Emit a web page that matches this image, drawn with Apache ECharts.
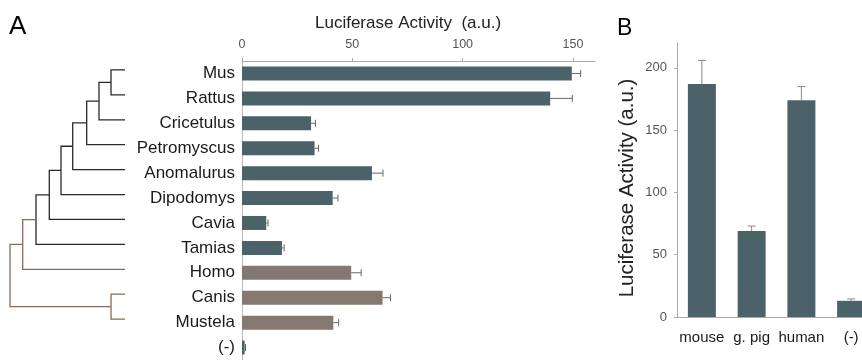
<!DOCTYPE html>
<html>
<head>
<meta charset="utf-8">
<script src="https://cdn.jsdelivr.net/npm/echarts@6/dist/echarts.min.js"></script>
<style>
html,body{margin:0;padding:0;background:#fff;}
#chart{width:862px;height:360px;}
</style>
</head>
<body>
<div id="chart"></div>
<script>
// ---------- Panel A data ----------
const categoriesA = ['Mus','Rattus','Cricetulus','Petromyscus','Anomalurus','Dipodomys','Cavia','Tamias','Homo','Canis','Mustela','(-)'];
const valuesA = [149.5, 139.7, 31.3, 32.9, 58.9, 41.1, 11.0, 18.1, 49.5, 63.7, 41.4, 1.2];
const errorsA = [4, 10, 2, 1.8, 5, 2.4, 0.8, 1, 4.5, 3.6, 2.4, 0.4];
const groupsA = ['rodent','rodent','rodent','rodent','rodent','rodent','rodent','rodent','other','other','other','control'];
const tickLabelsA = [0, 50, 100, 150];

// ---------- Dendrogram (branch depths, root = 0, leaves = 115) ----------
const leafDepth = 115;
const nodeIds     = ['n1','n2','n3','n4','n5','n6','n7','n8','n9','root'];
const nodeDepths  = [101, 89, 76.7, 62.7, 51, 39.3, 26, 12.7, 101, 0];
const nodeChildA  = ['Mus','n1','n2','n3','n4','n5','n6','n7','Canis','n8'];
const nodeChildB  = ['Rattus','Cricetulus','Petromyscus','Anomalurus','Dipodomys','Cavia','Tamias','Homo','Mustela','n9'];
const nodeClade   = ['rodent','rodent','rodent','rodent','rodent','rodent','rodent','other','other','other'];

// ---------- Panel B data ----------
const categoriesB = ['mouse','g. pig','human','(-)'];
const valuesB = [187, 69, 174, 13];
const errorsB = [19, 4, 11, 1.5];
const tickLabelsB = [0, 50, 100, 150, 200];

// ---------- styles ----------
const colorMap = { rodent: '#4b6269', other: '#857870', control: '#4b6269' };
const treeColorMap = { rodent: '#2a2a2a', other: '#8a6a5a' };
const FONT = '"Liberation Sans", Arial, sans-serif';

// compute dendrogram node positions (y in leaf-index units)
const posY = {}, posX = {};
categoriesA.forEach((c, i) => { posY[c] = i; posX[c] = leafDepth; });
nodeIds.forEach((id, k) => {
  posX[id] = nodeDepths[k];
  posY[id] = (posY[nodeChildA[k]] + posY[nodeChildB[k]]) / 2;
});
const treeData = nodeIds.map((id, k) => [
  posX[id], posY[nodeChildA[k]], posY[nodeChildB[k]],
  posX[nodeChildA[k]], posX[nodeChildB[k]], k
]);

const chart = echarts.init(document.getElementById('chart'));

const option = {
  animation: false,
  backgroundColor: '#fff',
  textStyle: { fontFamily: FONT },
  title: [
    { text: 'A', left: 9, top: 14, padding: 0, textStyle: { fontSize: 26, fontWeight: 'normal', color: '#000', fontFamily: FONT } },
    { text: 'B', left: 617, top: 17, padding: 0, textStyle: { fontSize: 23, fontWeight: 'normal', color: '#000', fontFamily: FONT } },
    { text: 'Luciferase Activity  (a.u.)', left: 315, top: 15, padding: 0, textStyle: { fontSize: 17, fontWeight: 'normal', color: '#222', fontFamily: FONT } }
  ],
  grid: [
    { left: 10, top: 57.5, width: 115, height: 299, outerBoundsMode: 'none', containLabel: false },   // dendrogram
    { left: 242, top: 61, width: 353, height: 299, outerBoundsMode: 'none', containLabel: false },    // panel A bars
    { left: 677, top: 43, width: 199, height: 274, outerBoundsMode: 'none', containLabel: false }     // panel B bars
  ],
  xAxis: [
    { gridIndex: 0, type: 'value', min: 0, max: leafDepth, show: false },
    {
      gridIndex: 1, type: 'value', position: 'top', min: 0, max: 160,
      axisLine: { show: true, lineStyle: { color: '#aaa', width: 1 } },
      axisTick: { show: true, length: 3, customValues: tickLabelsA, lineStyle: { color: '#aaa' } },
      axisLabel: { customValues: tickLabelsA, fontSize: 12.5, color: '#555', margin: 10, fontFamily: FONT },
      splitLine: { show: false }
    },
    {
      gridIndex: 2, type: 'category', data: categoriesB,
      axisLine: { show: true, lineStyle: { color: '#aaa', width: 1 } },
      axisTick: { show: false },
      axisLabel: { interval: 0, fontSize: 15, color: '#1a1a1a', margin: 13, fontFamily: FONT }
    }
  ],
  yAxis: [
    { gridIndex: 0, type: 'value', min: -0.5, max: 11.5, inverse: true, show: false },
    {
      gridIndex: 1, type: 'category', data: categoriesA, inverse: true,
      axisLine: { show: true, lineStyle: { color: '#bbb', width: 1 } },
      axisTick: { show: false },
      axisLabel: { fontSize: 17, color: '#1a1a1a', margin: 7, fontFamily: FONT }
    },
    {
      gridIndex: 2, type: 'value', min: 0, max: 220,
      name: 'Luciferase Activity (a.u.)', nameLocation: 'middle', nameGap: 39,
      nameTextStyle: { fontSize: 20.5, color: '#222', fontFamily: FONT, padding: [0, 16, 0, 0] },
      axisLine: { show: true, lineStyle: { color: '#aaa', width: 1 } },
      axisTick: { show: true, length: 3, customValues: tickLabelsB, lineStyle: { color: '#aaa' } },
      axisLabel: { customValues: tickLabelsB, fontSize: 13, color: '#555', margin: 10, fontFamily: FONT },
      splitLine: { show: false }
    }
  ],
  series: [
    {
      type: 'custom', xAxisIndex: 0, yAxisIndex: 0, data: treeData, silent: true,
      encode: { x: [0, 3, 4], y: [1, 2] },
      renderItem: function (params, api) {
        const d = api.value(0), ya = api.value(1), yb = api.value(2);
        const da = api.value(3), db = api.value(4), k = api.value(5);
        const pts = [
          api.coord([da, ya]), api.coord([d, ya]),
          api.coord([d, yb]), api.coord([db, yb])
        ];
        return {
          type: 'polyline', shape: { points: pts },
          style: { stroke: treeColorMap[nodeClade[k]], lineWidth: 1.3, fill: null }
        };
      }
    },
    {
      type: 'bar', xAxisIndex: 1, yAxisIndex: 1, barWidth: 14,
      data: valuesA.map((v, i) => ({ value: v, itemStyle: { color: colorMap[groupsA[i]] } }))
    },
    {
      type: 'custom', xAxisIndex: 1, yAxisIndex: 1, silent: true, z: 5,
      data: valuesA.map((v, i) => [i, v, errorsA[i]]),
      encode: { y: 0, x: 1 },
      renderItem: function (params, api) {
        const i = api.value(0), v = api.value(1), e = api.value(2);
        const p0 = api.coord([v, i]), p1 = api.coord([v + e, i]);
        const h = 3.5;
        return {
          type: 'group', children: [
            { type: 'line', shape: { x1: p0[0], y1: p0[1], x2: p1[0], y2: p1[1] }, style: { stroke: '#666', lineWidth: 1 } },
            { type: 'line', shape: { x1: p1[0], y1: p1[1] - h, x2: p1[0], y2: p1[1] + h }, style: { stroke: '#666', lineWidth: 1 } }
          ]
        };
      }
    },
    {
      type: 'bar', xAxisIndex: 2, yAxisIndex: 2, barWidth: 28,
      itemStyle: { color: colorMap.rodent },
      data: valuesB
    },
    {
      type: 'custom', xAxisIndex: 2, yAxisIndex: 2, silent: true, z: 5,
      data: valuesB.map((v, i) => [i, v, errorsB[i]]),
      encode: { x: 0, y: 1 },
      renderItem: function (params, api) {
        const i = api.value(0), v = api.value(1), e = api.value(2);
        const p0 = api.coord([i, v]), p1 = api.coord([i, v + e]);
        const w = 4;
        return {
          type: 'group', children: [
            { type: 'line', shape: { x1: p0[0], y1: p0[1], x2: p1[0], y2: p1[1] }, style: { stroke: '#888', lineWidth: 1 } },
            { type: 'line', shape: { x1: p1[0] - w, y1: p1[1], x2: p1[0] + w, y2: p1[1] }, style: { stroke: '#888', lineWidth: 1 } }
          ]
        };
      }
    }
  ]
};

chart.setOption(option);
</script>
</body>
</html>
